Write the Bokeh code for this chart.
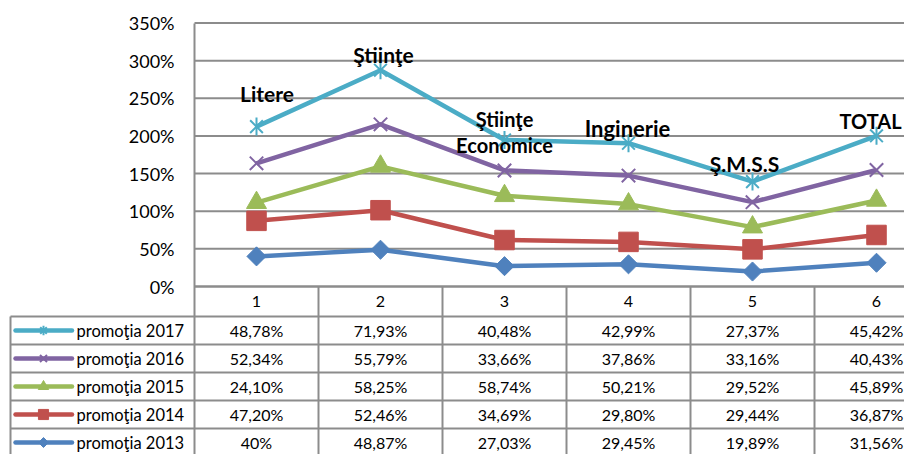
import numpy as np
from bokeh.plotting import figure
from bokeh.models import Range1d, FixedTicker, PrintfTickFormatter, ColumnDataSource
from bokeh.core.properties import value
from bokeh.embed import file_html
from bokeh.resources import INLINE

# ---------------- data ----------------
categories = ["1", "2", "3", "4", "5", "6"]
group_labels = ["Litere", "Ştiinţe", "Ştiinţe\nEconomice", "Inginerie", "Ş.M.S.S", "TOTAL"]
series_names = ["promoţia 2013", "promoţia 2014", "promoţia 2015", "promoţia 2016", "promoţia 2017"]
p2013 = [40.00, 48.87, 27.03, 29.45, 19.89, 31.56]
p2014 = [47.20, 52.46, 34.69, 29.80, 29.44, 36.87]
p2015 = [24.10, 58.25, 58.74, 50.21, 29.52, 45.89]
p2016 = [52.34, 55.79, 33.66, 37.86, 33.16, 40.43]
p2017 = [48.78, 71.93, 40.48, 42.99, 27.37, 45.42]
y_ticks = [0, 50, 100, 150, 200, 250, 300, 350]

series = [p2013, p2014, p2015, p2016, p2017]

# ---------------- styles ----------------
colors = ["#4F81BD", "#C0504D", "#9BBB59", "#8064A2", "#4BACC6"]
GRID = "#8C8C8C"
FONT = "Lato"

# ---------------- layout (pixels) ----------------
W, H = 904, 454
col_px = 124.0
cat1_px = 256.0
zero_px = 286.0
top_px = 22.5
px_per_pct = (zero_px - top_px) / y_ticks[-1]
hdr_px = 30.0
row_px = 28.0
legend_left_px = 10.0

x_start = 1 + (0 - cat1_px) / col_px
x_end = x_start + W / col_px
y_end = zero_px / px_per_pct
y_start = (zero_px - H) / px_per_pct


def t_of(px):
    return 1 + (px - (zero_px + hdr_px)) / row_px


t_top = t_of(0)
t_bottom = t_of(H)
t_zero = t_of(zero_px)

first_edge = 0.5
leg_left = 1 + (legend_left_px - cat1_px) / col_px

p = figure(width=W, height=H, x_range=Range1d(x_start, x_end),
           y_range=Range1d(y_start, y_end), output_backend="svg",
           toolbar_location=None, min_border=0, outline_line_color=None,
           background_fill_color="white", border_fill_color="white")
p.extra_y_ranges = {"table": Range1d(start=t_bottom, end=t_top)}
p.grid.visible = False

# horizontal gridlines of the chart area
p.segment(x0=first_edge, x1=x_end, y0=y_ticks, y1=y_ticks,
          line_color=GRID, line_width=2)

# ---------------- axes ----------------
yax = p.yaxis[0]
yax.fixed_location = first_edge
yax.ticker = FixedTicker(ticks=y_ticks)
yax.formatter = PrintfTickFormatter(format="%d%%")
yax.bounds = (y_start, y_ticks[-1])
yax.axis_line_color = GRID
yax.axis_line_width = 2
yax.major_tick_out = 0
yax.major_tick_in = 0
yax.minor_tick_line_color = None
yax.major_label_standoff = 20
yax.major_label_text_font = FONT
yax.major_label_text_font_size = "18px"
yax.major_label_text_color = "#000000"

ncat = len(categories)
cat_x = list(range(1, ncat + 1))
xax = p.xaxis[0]
xax.fixed_location = 0
xax.ticker = FixedTicker(ticks=cat_x)
xax.major_label_overrides = {c: lab for c, lab in zip(cat_x, categories)}
xax.bounds = (first_edge, x_end)
xax.axis_line_color = GRID
xax.axis_line_width = 2
xax.major_tick_out = 0
xax.major_tick_in = 0
xax.minor_tick_line_color = None
xax.major_label_standoff = 9
xax.major_label_text_font = FONT
xax.major_label_text_font_size = "16px"
xax.major_label_text_color = "#000000"

# ---------------- table grid ----------------
nrows = len(series)
h_rows = list(range(1, nrows + 2))
p.segment(x0=leg_left, x1=x_end, y0=h_rows, y1=h_rows, line_color=GRID,
          line_width=2, y_range_name="table")
v_cols = [c + 0.5 for c in cat_x]
p.segment(x0=v_cols, x1=v_cols, y0=t_zero, y1=t_bottom, line_color=GRID,
          line_width=2, y_range_name="table")
p.segment(x0=leg_left, x1=leg_left, y0=1, y1=t_bottom, line_color=GRID,
          line_width=2, y_range_name="table")

# ---------------- stacked lines ----------------
cum = np.cumsum(np.array(series), axis=0)
xs = np.array(cat_x)
for i in range(len(series)):
    p.line(xs, cum[i], line_color=colors[i], line_width=4.5, line_join="round")


def draw_marker(i, x, y, big, y_range_name="default"):
    s = 1.0 if big else 0.52
    kw = dict(y_range_name=y_range_name)
    if i == 0:
        p.scatter(x, y, marker="square", angle=np.pi / 4, size=13.5 * s,
                  fill_color=colors[i], line_color=colors[i], **kw)
    elif i == 1:
        p.scatter(x, y, marker="square", size=19.5 * s,
                  fill_color=colors[i], line_color=colors[i], **kw)
    elif i == 2:
        p.scatter(x, y, marker="triangle", size=20 * s,
                  fill_color=colors[i], line_color=colors[i], **kw)
    elif i == 3:
        p.scatter(x, y, marker="x", size=19 * s, line_color=colors[i],
                  line_width=2, **kw)
    else:
        p.scatter(x, y, marker="x", size=18 * s, line_color=colors[i],
                  line_width=2, **kw)
        p.scatter(x, y, marker="dash", angle=np.pi / 2, size=18 * s,
                  line_color=colors[i], line_width=2, **kw)


for i in range(len(series)):
    draw_marker(i, xs, cum[i], True)

# ---------------- category labels ----------------
label_dx = [10.5, 3, 0, -1, -8, -6]
label_dy = [-32.7, -16.2, -8.2, -15.2, -18, -15]
label_size = ["21px", "21px", "20px", "22px", "21px", "20px"]
lab_src = ColumnDataSource(dict(x=xs, y=cum[-1], text=group_labels,
                                dx=label_dx, dy=label_dy, fs=label_size))
p.text(x="x", y="y", text="text", x_offset="dx", y_offset="dy",
       text_font_size="fs", source=lab_src, text_font=value(FONT),
       text_font_style="bold", text_align="center", text_baseline="middle",
       text_line_height=1.08, text_color="#000000")

# ---------------- table contents ----------------
def fmt(v):
    if float(v).is_integer():
        return f"{v:.0f}%"
    return f"{v:.2f}%".replace(".", ",")


order = list(range(len(series)))[::-1]
tx, ty, tt = [], [], []
for r, si in enumerate(order):
    t = r + 1.5
    for k in range(ncat):
        tx.append(cat_x[k])
        ty.append(t)
        tt.append(fmt(series[si][k]))
p.text(x=tx, y=ty, text=tt, y_range_name="table", text_font=value(FONT),
       text_font_size="16px", text_align="center", text_baseline="middle",
       text_color="#000000")

leg_x0 = leg_left + 5 / col_px
leg_x1 = leg_left + 61.5 / col_px
leg_xm = leg_left + 33 / col_px
leg_xt = leg_left + 66 / col_px
for r, si in enumerate(order):
    t = r + 1.5
    p.segment(x0=[leg_x0], x1=[leg_x1], y0=[t], y1=[t], line_color=colors[si],
              line_width=4.5, line_cap="round", y_range_name="table")
    draw_marker(si, [leg_xm], [t], False, y_range_name="table")
p.text(x=[leg_xt] * len(order), y=[r + 1.5 for r in range(len(order))],
       text=[series_names[si] for si in order], y_range_name="table",
       text_font=value(FONT), text_font_size="16.5px", text_align="left",
       text_baseline="middle", text_color="#000000")

open("out.html", "w").write(file_html(p, INLINE))
